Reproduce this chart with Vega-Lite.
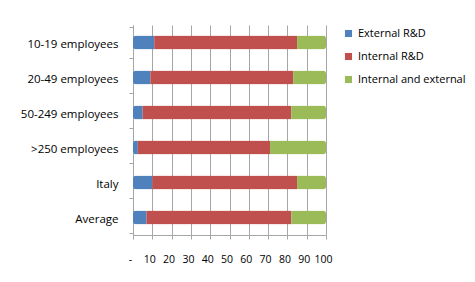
{
  "$schema": "https://vega.github.io/schema/vega-lite/v6.json",
  "width": 193,
  "height": 210,
  "autosize": "none",
  "padding": {"left": 133, "top": 25, "right": 149, "bottom": 47},
  "background": "white",
  "data": {"values": [
    {"group": "10-19 employees", "type": "External R&D", "k": 1, "value": 11},
    {"group": "10-19 employees", "type": "Internal R&D", "k": 2, "value": 74},
    {"group": "10-19 employees", "type": "Internal and external", "k": 3, "value": 15},
    {"group": "20-49 employees", "type": "External R&D", "k": 1, "value": 9},
    {"group": "20-49 employees", "type": "Internal R&D", "k": 2, "value": 74},
    {"group": "20-49 employees", "type": "Internal and external", "k": 3, "value": 17},
    {"group": "50-249 employees", "type": "External R&D", "k": 1, "value": 5},
    {"group": "50-249 employees", "type": "Internal R&D", "k": 2, "value": 77},
    {"group": "50-249 employees", "type": "Internal and external", "k": 3, "value": 18},
    {"group": ">250 employees", "type": "External R&D", "k": 1, "value": 2.5},
    {"group": ">250 employees", "type": "Internal R&D", "k": 2, "value": 68.5},
    {"group": ">250 employees", "type": "Internal and external", "k": 3, "value": 29},
    {"group": "Italy", "type": "External R&D", "k": 1, "value": 10},
    {"group": "Italy", "type": "Internal R&D", "k": 2, "value": 75},
    {"group": "Italy", "type": "Internal and external", "k": 3, "value": 15},
    {"group": "Average", "type": "External R&D", "k": 1, "value": 7},
    {"group": "Average", "type": "Internal R&D", "k": 2, "value": 75},
    {"group": "Average", "type": "Internal and external", "k": 3, "value": 18}
  ]},
  "mark": {"type": "bar", "height": 14, "cornerRadius": 3, "stroke": null},
  "encoding": {
    "y": {
      "field": "group", "type": "nominal",
      "sort": ["10-19 employees", "20-49 employees", "50-249 employees", ">250 employees", "Italy", "Average"],
      "title": null,
      "axis": {
        "bandPosition": 0, "tickBand": "extent", "labelFont": "Open Sans", "labelFontSize": 11.5,
        "labelColor": "#000000", "labelPadding": 11, "labelOffset": 2,
        "domainColor": "#a6a6a6", "tickColor": "#a6a6a6", "tickSize": 4, "grid": false
      }
    },
    "x": {
      "field": "value", "type": "quantitative", "stack": "zero",
      "scale": {"domain": [0, 100], "nice": false},
      "title": null,
      "axis": {
        "values": [0, 10, 20, 30, 40, 50, 60, 70, 80, 90, 100],
        "labelExpr": "datum.value == 0 ? '-' : datum.label",
        "labelFont": "Open Sans", "labelFontSize": 10.5, "labelColor": "#000000",
        "labelFlush": false, "labelOffset": -3,
        "labelPadding": 15, "domainColor": "#a6a6a6", "tickColor": "#a6a6a6", "tickSize": 4,
        "grid": true, "gridColor": "#a6a6a6", "gridWidth": 1, "labelOverlap": false
      }
    },
    "color": {
      "field": "type", "type": "nominal",
      "scale": {"domain": ["External R&D", "Internal R&D", "Internal and external"], "range": ["#4F81BD", "#C0504D", "#9BBB59"]},
      "legend": {
        "title": null, "orient": "none", "legendX": 210, "legendY": 3,
        "symbolType": "square", "symbolSize": 50, "labelFont": "Open Sans", "labelFontSize": 11,
        "labelColor": "#000000", "rowPadding": 11, "symbolStrokeWidth": 0
      }
    },
    "order": {"field": "k", "type": "quantitative"}
  },
  "config": {"view": {"stroke": null}}
}
